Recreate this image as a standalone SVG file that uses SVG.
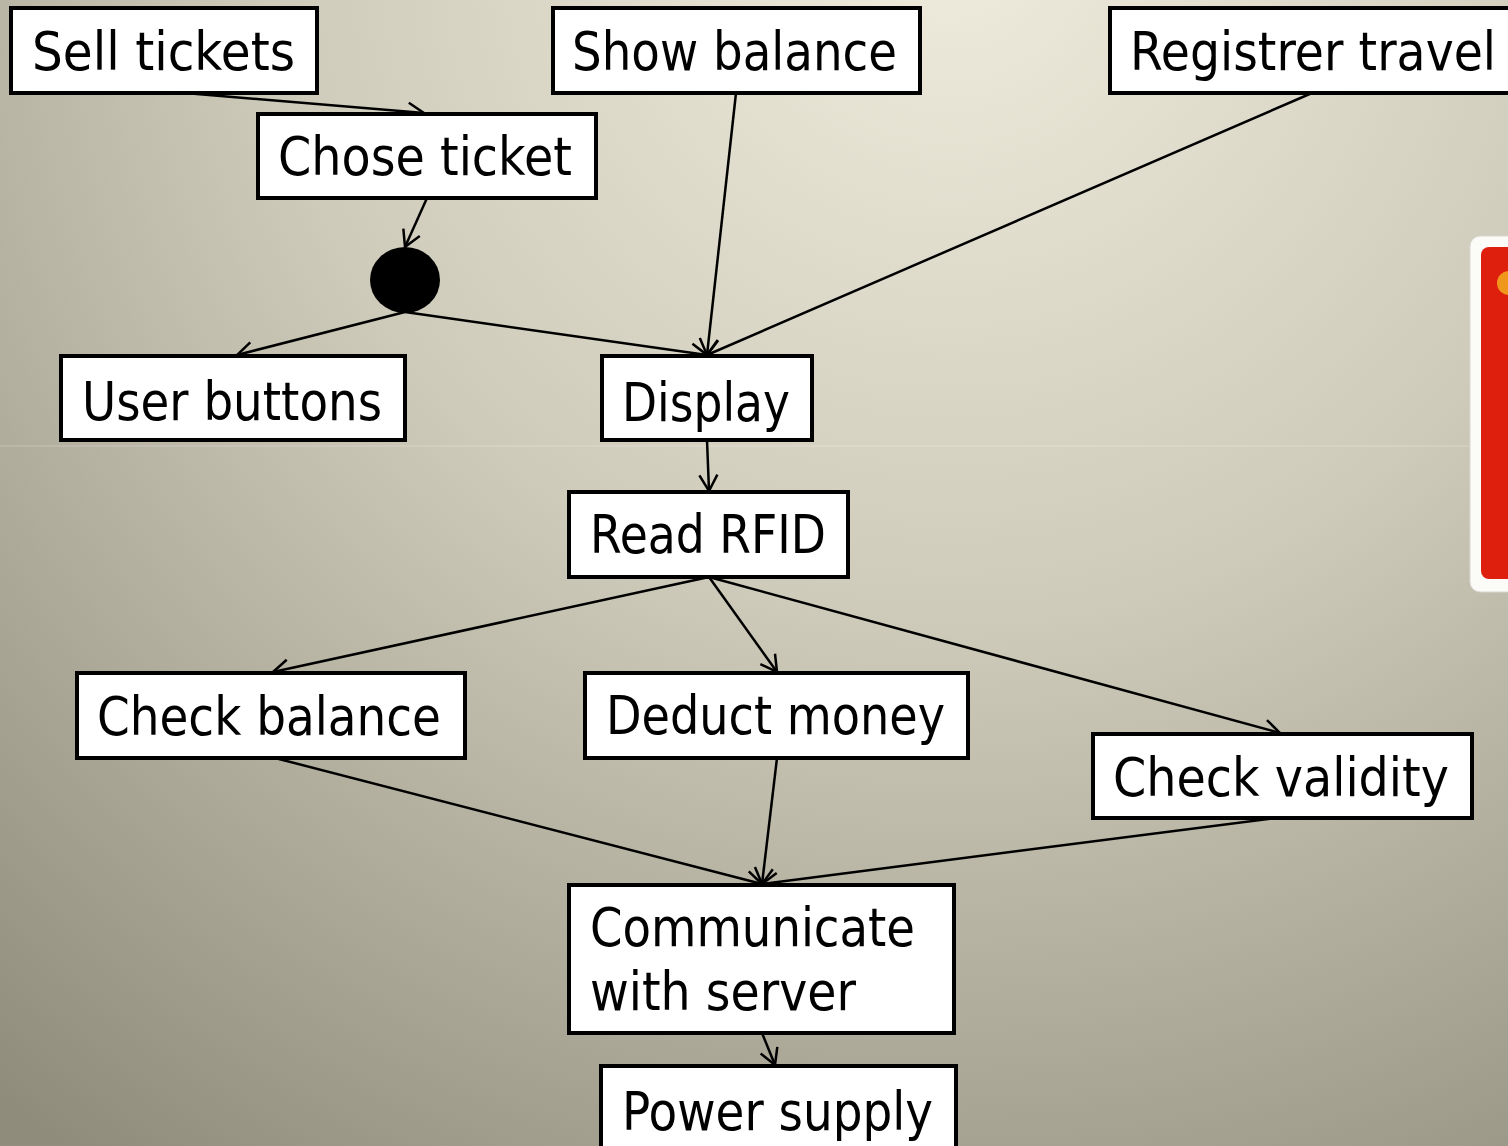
<svg xmlns="http://www.w3.org/2000/svg" width="1508" height="1146" viewBox="0 0 1508 1146">
  <defs>
    <radialGradient id="bg" gradientUnits="userSpaceOnUse" cx="950" cy="-60" r="1500" fx="950" fy="-60">
      <stop offset="0" stop-color="#f0ecdd"/>
      <stop offset="0.45" stop-color="#cfcbbb"/>
      <stop offset="1" stop-color="#8f8c7b"/>
    </radialGradient>
    <marker id="arrow" markerUnits="userSpaceOnUse" markerWidth="40" markerHeight="40" refX="0" refY="0" viewBox="-20 -20 40 40" orient="auto" overflow="visible">
      <path d="M-16,-9 L0,0 L-16,9" fill="none" stroke="#000" stroke-width="2.5" stroke-linejoin="miter"/>
    </marker>
    <style>
      .box { fill: #ffffff; stroke: #000000; stroke-width: 4; }
      .label { font-family: "DejaVu Sans", "Liberation Sans", sans-serif; font-size: 54px; fill: #000000; }
      .edge { stroke: #000000; stroke-width: 2.5; fill: none; marker-end: url(#arrow); }
    </style>
  </defs>

  <!-- background -->
  <rect x="0" y="0" width="1508" height="1146" fill="url(#bg)"/>
  <rect x="0" y="445.5" width="1508" height="1" fill="#ffffff" opacity="0.25"/>

  <!-- card at the right edge -->
  <g id="card">
    <rect x="1470" y="236" width="60" height="356" rx="10" fill="#fbfbf8" stroke="#d8d6d0" stroke-width="1"/>
    <rect x="1481" y="247" width="45" height="332" rx="8" fill="#df1f0e"/>
    <circle cx="1509" cy="283" r="12" fill="#f0981c"/>
  </g>

  <!-- connectors -->
  <g id="connectors">
    <line class="edge" x1="185" y1="93" x2="424" y2="113"/>
    <line class="edge" x1="427" y1="198" x2="405" y2="247"/>
    <line class="edge" x1="405" y1="312" x2="237" y2="355"/>
    <line class="edge" x1="405" y1="312" x2="707" y2="355"/>
    <line class="edge" x1="736" y1="93" x2="707" y2="355"/>
    <line class="edge" x1="1312" y1="93" x2="707" y2="355"/>
    <line class="edge" x1="707" y1="440" x2="709" y2="491"/>
    <line class="edge" x1="709" y1="577" x2="273" y2="672"/>
    <line class="edge" x1="709" y1="577" x2="777" y2="672"/>
    <line class="edge" x1="709" y1="577" x2="1280" y2="733"/>
    <line class="edge" x1="275" y1="758" x2="762" y2="884"/>
    <line class="edge" x1="777" y1="758" x2="762" y2="884"/>
    <line class="edge" x1="1275" y1="818" x2="762" y2="884"/>
    <line class="edge" x1="762" y1="1033" x2="775" y2="1065"/>
  </g>

  <!-- nodes -->
  <g id="sell-tickets">
    <rect class="box" x="11" y="8" width="306" height="85"/>
    <text class="label" x="32" y="70" textLength="263" lengthAdjust="spacingAndGlyphs">Sell tickets</text>
  </g>
  <g id="show-balance">
    <rect class="box" x="553" y="8" width="367" height="85"/>
    <text class="label" x="572" y="70" textLength="325" lengthAdjust="spacingAndGlyphs">Show balance</text>
  </g>
  <g id="registrer-travel">
    <rect class="box" x="1110" y="8" width="410" height="85"/>
    <text class="label" x="1130" y="70" textLength="366" lengthAdjust="spacingAndGlyphs">Registrer travel</text>
  </g>
  <g id="chose-ticket">
    <rect class="box" x="258" y="114" width="338" height="84"/>
    <text class="label" x="278" y="175" textLength="294" lengthAdjust="spacingAndGlyphs">Chose ticket</text>
  </g>
  <g id="fork">
    <ellipse cx="405" cy="280" rx="35" ry="33" fill="#000000"/>
  </g>
  <g id="user-buttons">
    <rect class="box" x="61" y="356" width="344" height="84"/>
    <text class="label" x="82" y="420" font-size="64" textLength="300" lengthAdjust="spacingAndGlyphs">User buttons</text>
  </g>
  <g id="display">
    <rect class="box" x="602" y="356" width="210" height="84"/>
    <text class="label" x="622" y="421" font-size="62" textLength="168" lengthAdjust="spacingAndGlyphs">Display</text>
  </g>
  <g id="read-rfid">
    <rect class="box" x="569" y="492" width="279" height="85"/>
    <text class="label" x="590" y="553" textLength="236" lengthAdjust="spacingAndGlyphs">Read RFID</text>
  </g>
  <g id="check-balance">
    <rect class="box" x="77" y="673" width="388" height="85"/>
    <text class="label" x="97" y="735" textLength="344" lengthAdjust="spacingAndGlyphs">Check balance</text>
  </g>
  <g id="deduct-money">
    <rect class="box" x="585" y="673" width="383" height="85"/>
    <text class="label" x="606" y="734" textLength="339" lengthAdjust="spacingAndGlyphs">Deduct money</text>
  </g>
  <g id="check-validity">
    <rect class="box" x="1093" y="734" width="379" height="84"/>
    <text class="label" x="1113" y="796" textLength="336" lengthAdjust="spacingAndGlyphs">Check validity</text>
  </g>
  <g id="communicate-with-server">
    <rect class="box" x="569" y="885" width="385" height="148"/>
    <text class="label" x="590" y="946" textLength="325" lengthAdjust="spacingAndGlyphs">Communicate</text>
    <text class="label" x="590" y="1010" textLength="266" lengthAdjust="spacingAndGlyphs">with server</text>
  </g>
  <g id="power-supply">
    <rect class="box" x="601" y="1066" width="355" height="90"/>
    <text class="label" x="622" y="1130" textLength="311" lengthAdjust="spacingAndGlyphs">Power supply</text>
  </g>
</svg>
